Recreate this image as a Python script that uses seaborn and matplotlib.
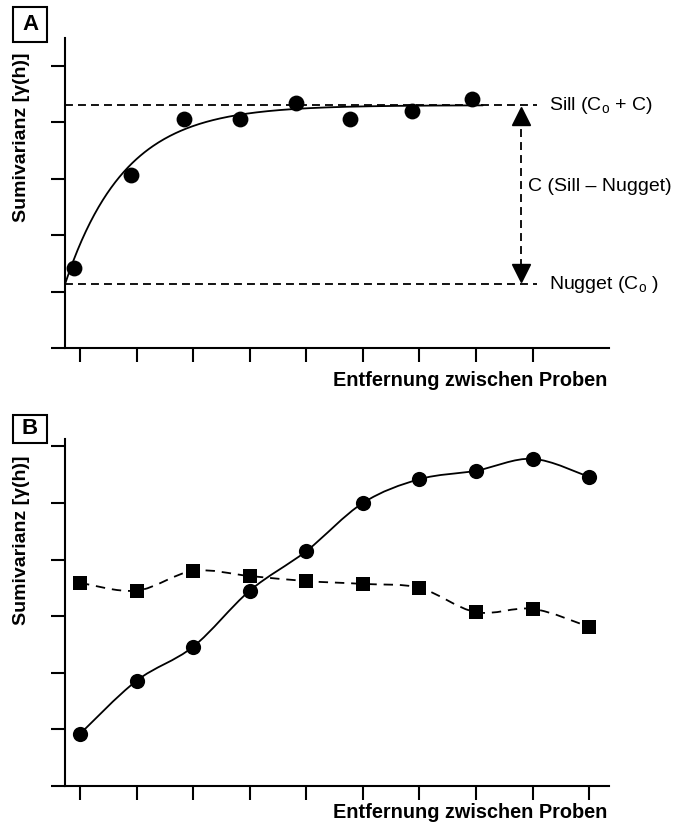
import numpy as np
import pandas as pd
import matplotlib
matplotlib.use("Agg")
import matplotlib.pyplot as plt
from matplotlib.path import Path
from matplotlib.patches import PathPatch
import seaborn as sns

# ---------------- data ----------------
# Panel A: empirical semivariogram points
a_lag = [0.89, 1.90, 2.83, 3.83, 4.81, 5.77, 6.86, 7.92]
a_gamma = [1.42, 3.06, 4.05, 4.05, 4.34, 4.05, 4.19, 4.41]
# Panel A: exponential model parameters
nugget = 1.13
sill = 4.30
model_rate = 0.95
model_start = 0.735
model_end = 8.12
arrow_x = 8.79
# Panel B: two series
b_lag = [1, 2, 3, 4, 5, 6, 7, 8, 9, 10]
b_circle = [0.92, 1.86, 2.46, 3.45, 4.15, 5.00, 5.42, 5.57, 5.78, 5.46]
b_square = [3.59, 3.45, 3.80, 3.71, 3.62, 3.57, 3.50, 3.07, 3.13, 2.81]
a_xticks = [1, 2, 3, 4, 5, 6, 7, 8, 9]
a_yticks = [0, 1, 2, 3, 4, 5]
b_xticks = [1, 2, 3, 4, 5, 6, 7, 8, 9, 10]
b_yticks = [0, 1, 2, 3, 4, 5, 6]

ylabel = "Sumivarianz [γ(h)]"
xlabel = "Entfernung zwischen Proben"

sns.set_theme(style="ticks")
plt.rcParams["font.family"] = ["Liberation Sans", "DejaVu Sans"]
plt.rcParams["mathtext.fontset"] = "custom"
plt.rcParams["mathtext.rm"] = "Liberation Sans"
plt.rcParams["mathtext.it"] = "Liberation Sans"
plt.rcParams["text.color"] = "black"

W, H = 680, 825
fig = plt.figure(figsize=(6.8, 8.25), dpi=100)

def px_axes(x0, y0, x1, y1):
    return fig.add_axes([x0 / W, 1 - y1 / H, (x1 - x0) / W, (y1 - y0) / H])

axA = px_axes(65, 38, 609, 348)
axB = px_axes(65, 439, 609, 786)

dashA = (0, (4.4, 2.8))
dashB = (0, (5.2, 3.8))

def style_axes(ax, xticks, yticks, ymax):
    ax.set_xlim(0.735, 10.35)
    ax.set_ylim(0, ymax)
    ax.set_xticks(xticks)
    ax.set_yticks(yticks)
    ax.set_xticklabels([])
    ax.set_yticklabels([])
    for s in ["top", "right"]:
        ax.spines[s].set_visible(False)
    for s in ["left", "bottom"]:
        ax.spines[s].set_linewidth(1.5)
        ax.spines[s].set_color("black")
    ax.tick_params(axis="both", direction="out", length=10, width=1.5, color="black")
    ax.set_xlabel("")
    ax.set_ylabel("")
    ax.set_facecolor("white")

def smooth_path(ax, xs, ys, **kw):
    """Excel-like smoothed line: cubic Bezier segments through the data points."""
    xs = np.asarray(xs, float)
    ys = np.asarray(ys, float)
    n = len(xs)
    verts = [(xs[0], ys[0])]
    codes = [Path.MOVETO]
    t = 1.0 / 6.0
    for i in range(n - 1):
        p0 = (xs[max(i - 1, 0)], ys[max(i - 1, 0)])
        p1 = (xs[i], ys[i])
        p2 = (xs[i + 1], ys[i + 1])
        p3 = (xs[min(i + 2, n - 1)], ys[min(i + 2, n - 1)])
        c1 = (p1[0] + (p2[0] - p0[0]) * t, p1[1] + (p2[1] - p0[1]) * t)
        c2 = (p2[0] - (p3[0] - p1[0]) * t, p2[1] - (p3[1] - p1[1]) * t)
        verts += [c1, c2, p2]
        codes += [Path.CURVE4] * 3
    ax.add_patch(PathPatch(Path(verts, codes), fill=False, **kw))

# ---------- Panel A ----------
h = np.linspace(model_start, model_end, 300)
model = nugget + (sill - nugget) * (1 - np.exp(-model_rate * (h - model_start)))
sns.lineplot(x=h, y=model, ax=axA, color="black", linewidth=1.3)
sns.scatterplot(x=a_lag, y=a_gamma, ax=axA, color="black", s=130, edgecolor="black", linewidth=0, zorder=5)
axA.plot([model_start, arrow_x + 0.28], [sill, sill], color="black", lw=1.3, ls=dashA, clip_on=False)
axA.plot([model_start, arrow_x + 0.28], [nugget, nugget], color="black", lw=1.3, ls=dashA, clip_on=False)
axA.plot([arrow_x, arrow_x], [nugget + 0.3, sill - 0.3], color="black", lw=1.3, ls=dashA)
axA.plot([arrow_x], [sill - 0.2], marker="^", color="black", markersize=13, linestyle="none")
axA.plot([arrow_x], [nugget + 0.2], marker="v", color="black", markersize=13, linestyle="none")
axA.text(9.29, sill, "Sill (C$_\\mathregular{o}$ + C)", fontsize=14, va="center", ha="left")
axA.text(8.92, (sill + nugget) / 2 + 0.15, "C (Sill – Nugget)", fontsize=14, va="center", ha="left")
axA.text(9.29, nugget, "Nugget (C$_\\mathregular{o}$ )", fontsize=14, va="center", ha="left")
style_axes(axA, a_xticks, a_yticks, 5.49)

# ---------- Panel B ----------
dfB = pd.DataFrame({"lag": b_lag, "circle": b_circle, "square": b_square})
sns.scatterplot(data=dfB, x="lag", y="circle", ax=axB, color="black", marker="o",
                s=120, linewidth=0, zorder=5)
sns.scatterplot(data=dfB, x="lag", y="square", ax=axB, color="black", marker="s",
                s=100, linewidth=0, zorder=5)
smooth_path(axB, dfB["lag"], dfB["circle"], edgecolor="black", linewidth=1.3)
smooth_path(axB, dfB["lag"], dfB["square"], edgecolor="black", linewidth=1.3, linestyle=dashB)
style_axes(axB, b_xticks, b_yticks, 6.13)

# ---------- labels ----------
for ycen, xlab_y in [(137, 381), (540, 812)]:
    fig.text(22 / W, 1 - ycen / H, ylabel, rotation=90, fontsize=14, fontweight="bold",
             ha="center", va="center", color="black")
    fig.text(607 / W, 1 - xlab_y / H, xlabel, fontsize=14.3, fontweight="bold",
             ha="right", va="center", color="black")

for lab, (x0, y0, x1, y1) in [("A", (13, 7, 47, 42)), ("B", (13, 415, 47, 443))]:
    fig.text((x0 + x1) / 2 / W, 1 - (y0 + y1) / 2 / H, lab, fontsize=16, fontweight="bold",
             ha="center", va="center", color="black")
    fig.patches.append(plt.Rectangle((x0 / W, 1 - y1 / H), (x1 - x0) / W, (y1 - y0) / H,
                                     transform=fig.transFigure, fill=False, lw=1.5,
                                     edgecolor="black"))

fig.savefig("out.png", dpi=100, facecolor="white")
